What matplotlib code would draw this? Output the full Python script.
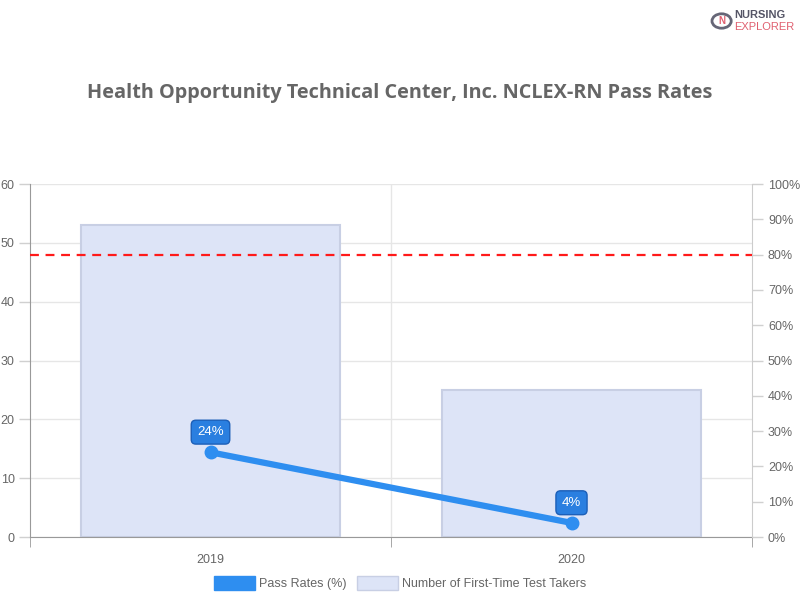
import matplotlib.pyplot as plt
from matplotlib.patches import Patch, Circle

# Данные графика
years = ['2019', '2020']
test_takers = [53, 25]
pass_rates = [24, 4]
benchmark = 80

plt.rcParams['font.family'] = ['Liberation Sans', 'DejaVu Sans']

fig = plt.figure(figsize=(8, 6), dpi=100)
ax = fig.add_axes([0.0375, 0.105, 0.9025, 0.5883])
ax2 = ax.twinx()

x = list(range(len(years)))

# Столбцы: количество сдающих впервые
ax.bar(x, test_takers, width=0.715, color='#dde4f7', edgecolor='#c8cfe4', linewidth=1.5, zorder=2)
ax.set_xlim(-0.5, 1.5)
ax.set_ylim(0, 60)
ax.set_yticks(range(0, 61, 10))
ax.set_xticks(x)
ax.set_xticklabels(years)

# Сетка
ax.grid(axis='y', color='#e6e6e6', linewidth=1, zorder=0)
ax.axvline(0.5, color='#e6e6e6', linewidth=1, zorder=0)
ax.set_axisbelow(True)

# Линия: процент сдачи
ax2.plot(x, pass_rates, color='#2e8ef0', linewidth=4.5, marker='o', markersize=9,
         solid_capstyle='round', zorder=5)
ax2.axhline(benchmark, color='#ff1a1a', linestyle=(0, (4, 3)), linewidth=1.6, zorder=4)
ax2.set_ylim(0, 100)
ax2.set_yticks(range(0, 101, 10))
ax2.set_yticklabels([f'{v}%' for v in range(0, 101, 10)])

for xi, v in zip(x, pass_rates):
    ax2.annotate(f'{v}%', (xi, v), xytext=(0, 14.5), textcoords='offset points',
                 ha='center', va='center', color='white', fontsize=9.5,
                 bbox=dict(boxstyle='round,pad=0.45,rounding_size=0.35', fc='#2a7fe0', ec='#1c5fb8', lw=1),
                 zorder=6)

for a in (ax, ax2):
    a.spines['top'].set_visible(False)
    a.tick_params(colors='#666666', labelsize=9, length=8, width=1)
    a.tick_params(axis='y', color='#d0d0d0')
ax.spines['left'].set_color('#999999')
ax.spines['bottom'].set_color('#999999')
ax.spines['right'].set_visible(False)
ax2.spines['left'].set_visible(False)
ax2.spines['bottom'].set_visible(False)
ax2.spines['right'].set_color('#cccccc')
ax.set_xticks([-0.5, 0.5, 1.5], minor=True)
ax.tick_params(axis='x', which='minor', length=7.5, color='#999999')
ax.tick_params(axis='x', which='major', length=0, pad=12)
ax.tick_params(axis='y', pad=3)

# Заголовок
fig.text(0.5, 0.845, 'Health Opportunity Technical Center, Inc. NCLEX-RN Pass Rates',
         ha='center', va='center', fontsize=14.3, fontweight='bold', color='#666666',
         family=['Open Sans', 'DejaVu Sans'])

# Легенда
handles = [Patch(facecolor='#2e8ef0', edgecolor='#2e8ef0'),
           Patch(facecolor='#dde4f7', edgecolor='#c8cfe4')]
fig.legend(handles, ['Pass Rates (%)', 'Number of First-Time Test Takers'],
           loc='center', bbox_to_anchor=(0.5, 0.028), ncol=2, frameon=False,
           fontsize=9, labelcolor='#666666', handlelength=3.3, handleheight=1.3,
           handletextpad=0.3, columnspacing=0.8)

# Логотип
fig.patches.append(Circle((0.902, 0.965), 0.012, transform=fig.transFigure,
                          fc='white', ec='#666677', lw=2))
fig.text(0.902, 0.965, 'N', ha='center', va='center', fontsize=7, color='#e06070', fontweight='bold')
fig.text(0.918, 0.975, 'NURSING', ha='left', va='center', fontsize=8, fontweight='bold', color='#555566')
fig.text(0.918, 0.955, 'EXPLORER', ha='left', va='center', fontsize=8, color='#e06070')

fig.savefig('out.png', dpi=100)
